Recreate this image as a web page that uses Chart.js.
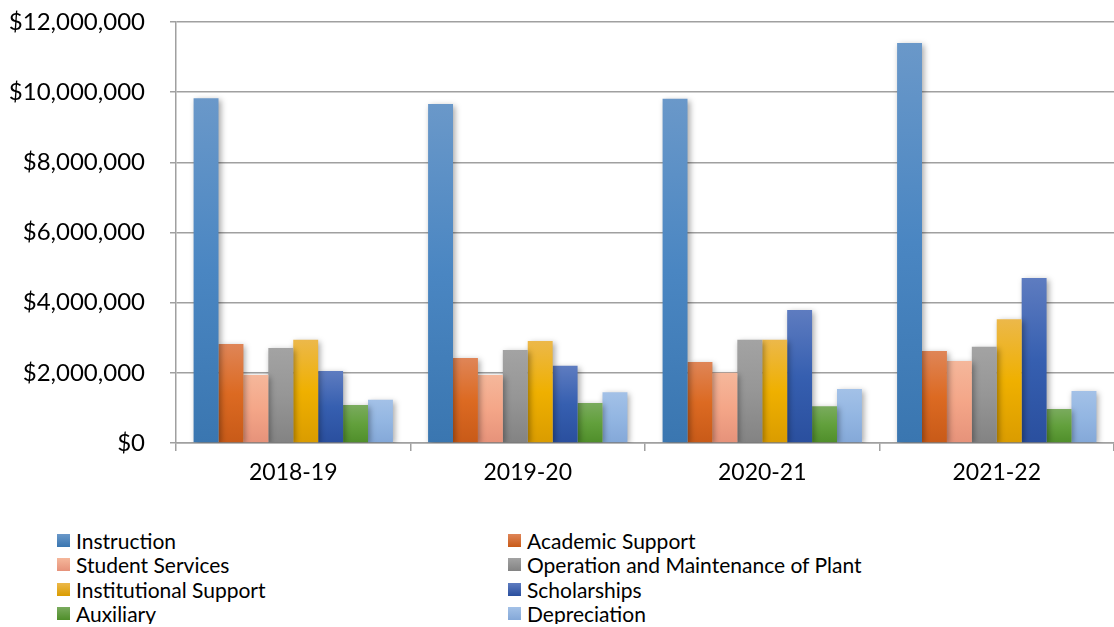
<!DOCTYPE html>
<html>
<head>
<meta charset="utf-8">
<script src="https://cdn.jsdelivr.net/npm/chart.js@4"></script>
<style>
  body { margin: 0; background: #fff; font-family: Lato, "Open Sans", sans-serif; }
  #wrap { position: relative; width: 1114px; height: 500px; }
  #legend {
    display: grid;
    grid-template-columns: 451px 451px;
    margin-left: 57px;
    margin-top: 30px;
    row-gap: 3px;
    font-size: 21px;
    line-height: 21px;
    color: #000;
  }
  .item { display: flex; align-items: center; height: 21.3px; overflow: visible; }
  .sw { width: 13px; height: 13px; margin-right: 6px; flex: none; }
</style>
</head>
<body>
<div id="wrap"><canvas id="myChart"></canvas></div>
<div id="legend"></div>
<script>
const ctx = document.getElementById("myChart")

const labels = ['2018-19', '2019-20', '2020-21', '2021-22']

const instruction = [9830000, 9660000, 9810000, 11400000]
const academicSupport = [2820000, 2420000, 2310000, 2620000]
const studentServices = [1940000, 1940000, 2000000, 2340000]
const operationPlant = [2710000, 2650000, 2940000, 2740000]
const institutionalSupport = [2940000, 2910000, 2940000, 3530000]
const scholarships = [2050000, 2200000, 3790000, 4700000]
const auxiliary = [1080000, 1140000, 1050000, 970000]
const depreciation = [1230000, 1450000, 1540000, 1480000]

const seriesNames = [
    'Instruction',
    'Academic Support',
    'Student Services',
    'Operation and Maintenance of Plant',
    'Institutional Support',
    'Scholarships',
    'Auxiliary',
    'Depreciation'
]
const seriesValues = [instruction, academicSupport, studentServices, operationPlant,
    institutionalSupport, scholarships, auxiliary, depreciation]

// top / middle / bottom shades, Excel style gradient
const shades = [
    ['#6a98c9', '#4a86c2', '#3a76b0'],
    ['#df8557', '#dc6a22', '#c85a18'],
    ['#f5b79b', '#f4a688', '#e6927a'],
    ['#a3a3a3', '#969696', '#838383'],
    ['#ecb84a', '#efb000', '#da9c00'],
    ['#5e7cc0', '#365fb0', '#2a4f9e'],
    ['#7aab5e', '#62a03c', '#4f8e2a'],
    ['#a3c1e7', '#93b6e2', '#84a8d8']
]

function barGradient(i) {
    return function (c) {
        const chart = c.chart
        const y = chart.scales.y
        if (!chart.chartArea || !y || c.raw === undefined) return shades[i][1]
        const top = y.getPixelForValue(c.raw)
        const bottom = y.getPixelForValue(0)
        const g = chart.ctx.createLinearGradient(0, top, 0, bottom)
        g.addColorStop(0, shades[i][0])
        g.addColorStop(0.5, shades[i][1])
        g.addColorStop(1, shades[i][2])
        return g
    }
}

const data = {
    labels,
    datasets: seriesNames.map((name, i) => ({
        label: name,
        data: seriesValues[i],
        backgroundColor: barGradient(i),
        borderWidth: 0
    }))
}

const shadowPlugin = {
    id: 'barShadow',
    beforeDatasetsDraw(chart) {
        const c = chart.ctx
        c.save()
        c.shadowColor = 'rgba(0,0,0,0.35)'
        c.shadowBlur = 6
        c.shadowOffsetX = 2
        c.shadowOffsetY = 2
    },
    afterDatasetsDraw(chart) {
        chart.ctx.restore()
    }
}

const gridGray = '#a0a0a0'

const config = {
    type: 'bar',
    data: data,
    options: {
      responsive: true,
      maintainAspectRatio: false,
      animation: false,
      layout: { padding: { top: 22, right: 0, left: 0, bottom: 0 } },
      datasets: { bar: { categoryPercentage: 0.85, barPercentage: 1 } },
      scales: {
        x: {
          grid: { display: true, offset: true, drawOnChartArea: false, color: gridGray, lineWidth: 1.5, tickLength: 8 },
          border: { color: gridGray, width: 1.5 },
          ticks: { color: '#000', font: { family: 'Lato', size: 23 }, padding: 8 },
          afterFit(scale) { scale.height = 57 }
        },
        y: {
          min: 0,
          max: 12000000,
          ticks: {
            stepSize: 2000000,
            color: '#000',
            font: { family: 'Lato', size: 24 },
            padding: 25,
            callback: v => '$' + v.toLocaleString('en-US')
          },
          grid: { color: gridGray, lineWidth: 1.5, tickLength: 6 },
          border: { color: gridGray, width: 1.5 },
          afterFit(scale) {
            scale.width = 176
            scale.paddingTop = 0
            scale.paddingBottom = 0
          }
        }
      },
      plugins: {
        legend: { display: false },
        tooltip: { enabled: false }
      }
    },
    plugins: [shadowPlugin]
  };

  const myChart = new Chart(ctx, config)

  const legend = document.getElementById('legend')
  seriesNames.forEach((name, i) => {
    const item = document.createElement('div')
    item.className = 'item'
    item.innerHTML = '<span class="sw" style="background:linear-gradient(' +
      shades[i][0] + ',' + shades[i][2] + ')"></span><span>' + name + '</span>'
    legend.appendChild(item)
  })
</script>
</body>
</html>
